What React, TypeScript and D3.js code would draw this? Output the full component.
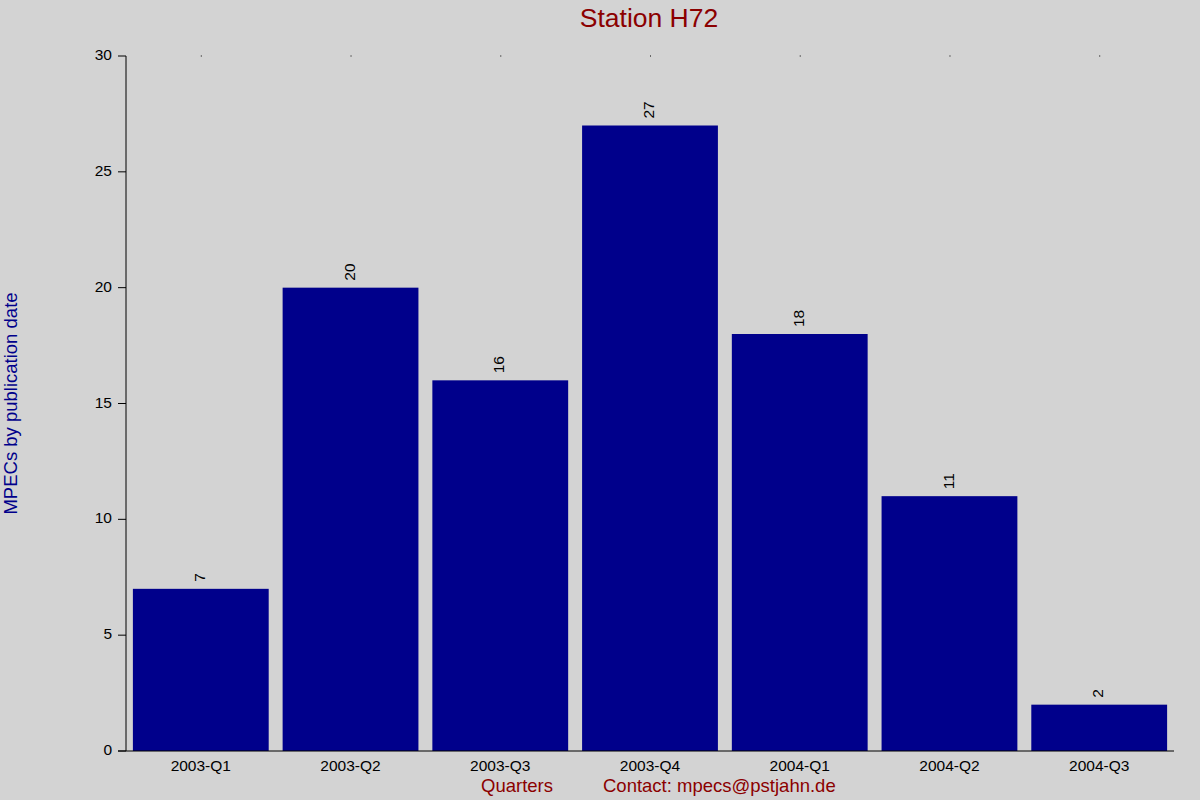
import React from 'react';
import * as d3 from 'd3';

const quarters = ['2003-Q1', '2003-Q2', '2003-Q3', '2003-Q4', '2004-Q1', '2004-Q2', '2004-Q3'];
const mpecs = [7, 20, 16, 27, 18, 11, 2];
const yTicks = [0, 5, 10, 15, 20, 25, 30];

const W = 1200;
const H = 800;
const margin = { top: 56, right: 26, bottom: 49, left: 126 };
const font = '"Liberation Sans", Arial, sans-serif';

export default function App() {
  const x = d3.scaleBand<string>()
    .domain(quarters)
    .range([margin.left, W - margin.right])
    .paddingInner(0.093)
    .paddingOuter(0.046);

  const y = d3.scaleLinear()
    .domain([0, 30])
    .range([H - margin.bottom, margin.top]);

  const baseY = y(0);

  return (
    <svg
      width={W}
      height={H}
      style={{ position: 'fixed', top: 0, left: 0, background: '#d3d3d3', fontFamily: font }}
    >
      <rect x={0} y={0} width={W} height={H} fill="#d3d3d3" />

      {/* bars */}
      {quarters.map((q, i) => (
        <rect
          key={q}
          x={x(q)}
          y={y(mpecs[i])}
          width={x.bandwidth()}
          height={baseY - y(mpecs[i])}
          fill="#00008b"
        />
      ))}

      {/* value labels */}
      {quarters.map((q, i) => {
        const cx = (x(q) as number) + x.bandwidth() / 2;
        const ty = y(mpecs[i]) - 7;
        return (
          <text
            key={q}
            transform={`translate(${cx},${ty}) rotate(-90)`}
            dominantBaseline="middle"
            fontSize={15.5}
            fill="#000"
          >
            {mpecs[i]}
          </text>
        );
      })}

      {/* top dots at category centers */}
      {quarters.map(q => (
        <rect
          key={q}
          x={(x(q) as number) + x.bandwidth() / 2}
          y={margin.top - 0.5}
          width={1}
          height={1}
          fill="#000"
        />
      ))}

      {/* axes */}
      <line x1={margin.left} x2={margin.left} y1={margin.top} y2={baseY} stroke="#000" />
      <line x1={margin.left - 8} x2={W - margin.right} y1={baseY} y2={baseY} stroke="#000" />
      {yTicks.map(t => (
        <g key={t}>
          <line x1={margin.left - 8} x2={margin.left} y1={y(t)} y2={y(t)} stroke="#000" />
          <text x={margin.left - 14} y={y(t)} textAnchor="end" dominantBaseline="middle" fontSize={15.5}>
            {t}
          </text>
        </g>
      ))}
      {quarters.map(q => (
        <text
          key={q}
          x={(x(q) as number) + x.bandwidth() / 2}
          y={baseY + 20}
          textAnchor="middle"
          fontSize={15.5}
        >
          {q}
        </text>
      ))}

      {/* titles */}
      <text x={649} y={27} textAnchor="middle" fontSize={26.5} fill="#8b0000">Station H72</text>
      <text
        transform={`translate(17,${(margin.top + baseY) / 2}) rotate(-90)`}
        textAnchor="middle"
        fontSize={18.5}
        fill="#00008b"
      >
        MPECs by publication date
      </text>
      <text x={517} y={792} textAnchor="middle" fontSize={18.5} fill="#8b0000">Quarters</text>
      <text x={603} y={792} fontSize={18.5} fill="#8b0000">Contact: mpecs@pstjahn.de</text>
    </svg>
  );
}
